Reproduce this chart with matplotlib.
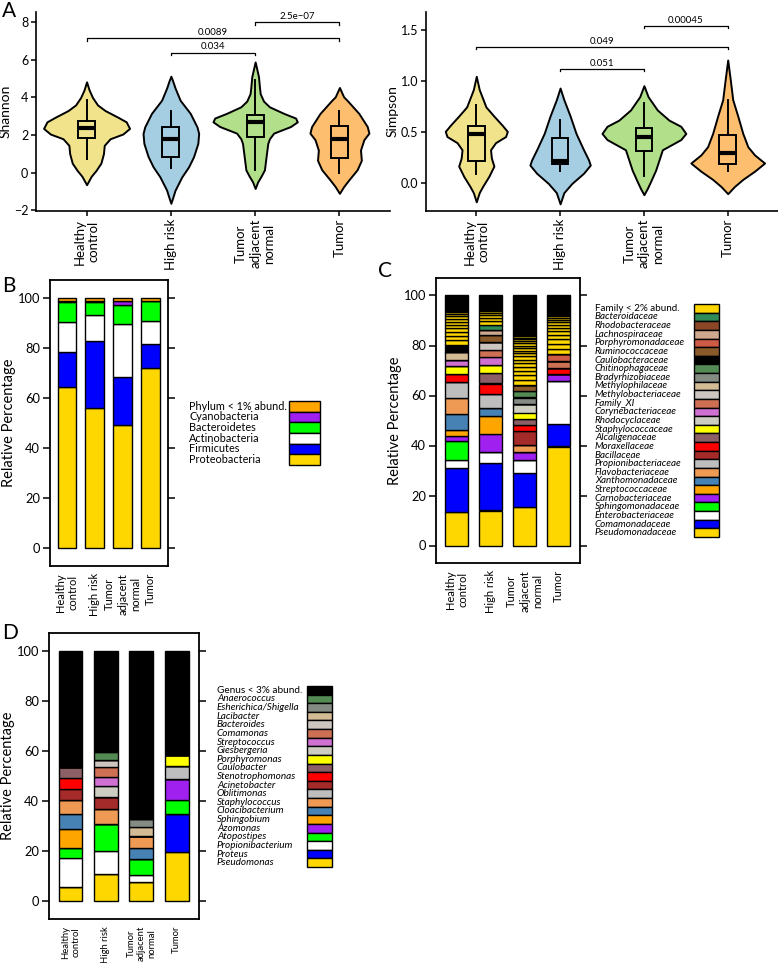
import numpy as np
import matplotlib.pyplot as plt
from matplotlib.patches import Rectangle

plt.rcParams['font.family'] = ['Lato', 'DejaVu Sans']

W, H = 778, 963

# -----------------------------------
# DATA
# -----------------------------------
groups = ["Healthy\ncontrol", "High risk", "Tumor\nadjacent\nnormal", "Tumor"]
violin_colors = ["#F1E38C", "#A6CEE3", "#B2DF8A", "#FDBF6F"]

# violin outlines: value levels and half widths (category units)
shannon_y = [
    [4.83, 4.4, 4.0, 3.6, 3.3, 2.95, 2.7, 2.35, 2.05, 1.8, 1.45, 1.0, 0.5, 0.1, -0.2, -0.65],
    [5.13, 4.9, 4.5, 3.85, 3.15, 2.43, 2.08, 1.55, 0.85, 0.3, -0.23, -0.94, -1.3, -1.64],
    [5.89, 5.5, 5.1, 4.6, 4.2, 3.8, 3.5, 3.15, 2.9, 2.7, 2.45, 2.1, 1.8, 1.55, 0.85, 0.14, -0.2, -0.5, -0.85],
    [4.53, 4.03, 3.85, 3.15, 2.45, 2.1, 1.75, 1.2, 0.65, 0.15, -0.4, -0.75, -1.11],
]
shannon_w = [
    [0, 0.03, 0.07, 0.13, 0.22, 0.37, 0.47, 0.51, 0.43, 0.28, 0.21, 0.2, 0.17, 0.11, 0.055, 0],
    [0, 0.02, 0.05, 0.11, 0.23, 0.31, 0.33, 0.32, 0.27, 0.21, 0.13, 0.05, 0.025, 0],
    [0, 0.02, 0.04, 0.05, 0.06, 0.1, 0.17, 0.34, 0.48, 0.5, 0.42, 0.22, 0.17, 0.15, 0.13, 0.11, 0.07, 0.03, 0],
    [0, 0.05, 0.09, 0.23, 0.33, 0.35, 0.29, 0.25, 0.26, 0.21, 0.11, 0.05, 0],
]
simpson_y = [
    [1.05, 0.92, 0.75, 0.66, 0.57, 0.51, 0.46, 0.40, 0.33, 0.25, 0.17, 0.07, -0.03, -0.09, -0.18],
    [0.935, 0.82, 0.66, 0.49, 0.33, 0.23, 0.18, 0.10, 0.0, -0.09, -0.2],
    [0.958, 0.85, 0.72, 0.62, 0.56, 0.49, 0.43, 0.33, 0.23, 0.13, 0.02, -0.05, -0.11],
    [1.21, 1.02, 0.82, 0.66, 0.49, 0.36, 0.28, 0.20, 0.12, 0.04, -0.03, -0.10],
]
simpson_w = [
    [0, 0.035, 0.115, 0.21, 0.31, 0.37, 0.35, 0.23, 0.17, 0.18, 0.21, 0.15, 0.075, 0.035, 0],
    [0, 0.045, 0.12, 0.19, 0.28, 0.34, 0.36, 0.28, 0.14, 0.045, 0],
    [0, 0.05, 0.16, 0.30, 0.44, 0.50, 0.44, 0.22, 0.18, 0.14, 0.08, 0.04, 0],
    [0, 0.03, 0.06, 0.12, 0.18, 0.24, 0.32, 0.44, 0.32, 0.18, 0.08, 0],
]
# box stats: whislo, q1, med, q3, whishi
shannon_box = [[0.72, 1.85, 2.36, 2.75, 3.85], [0.22, 0.84, 1.81, 2.43, 3.27],
               [0.13, 1.9, 2.69, 3.09, 4.91], [0.0, 0.75, 1.76, 2.47, 3.3]]
simpson_box = [[0.09, 0.22, 0.48, 0.56, 0.77], [0.12, 0.19, 0.22, 0.445, 0.62],
               [0.07, 0.32, 0.46, 0.54, 0.79], [0.12, 0.19, 0.30, 0.47, 0.82]]
# comparisons: (group a, group b, bracket height, label)
shannon_tests = [(3, 4, 8.0, "2.5e\u221207"), (1, 4, 7.17, "0.0089"), (2, 3, 6.39, "0.034")]
simpson_tests = [(3, 4, 1.546, "0.00045"), (1, 4, 1.34, "0.049"), (2, 3, 1.125, "0.051")]

# panel B: phyla, bottom to top
phyla = ["Proteobacteria", "Firmicutes", "Actinobacteria", "Bacteroidetes", "Cyanobacteria",
         "Phylum < 1% abund."]
phyla_colors = ["#FFD700", "#0000FF", "#FFFFFF", "#00FF00", "#A020F0", "#FFA500"]
phyla_pct = [
    [64.5, 56.0, 49.1, 71.8],
    [13.7, 26.7, 19.3, 9.8],
    [12.2, 10.4, 21.1, 9.0],
    [7.7, 5.2, 7.6, 7.9],
    [0.7, 0.3, 1.4, 0.3],
    [1.2, 1.4, 1.5, 1.2],
]

# panel C: families, bottom to top
families = ["Pseudomonadaceae", "Comamonadaceae", "Enterobacteriaceae", "Sphingomonadaceae",
            "Carnobacteriaceae", "Streptococcaceae", "Xanthomonadaceae", "Flavobacteriaceae",
            "Propionibacteriaceae", "Bacillaceae", "Moraxellaceae", "Alcaligenaceae",
            "Staphylococcaceae", "Rhodocyclaceae", "Corynebacteriaceae", "Family_XI",
            "Methylobacteriaceae", "Methylophilaceae", "Bradyrhizobiaceae", "Chitinophagaceae",
            "Caulobacteraceae", "Ruminococcaceae", "Porphyromonadaceae", "Lachnospiraceae",
            "Rhodobacteraceae", "Bacteroidaceae"]
family_colors = ["#FFD700", "#0000FF", "#FFFFFF", "#00FF00", "#A020F0", "#FFA500", "#4682B4",
                 "#EE9A55", "#BEBEBE", "#A52A2A", "#FF0000", "#8B5F65", "#FFFF00", "#CDCDC1",
                 "#D070D0", "#CD7054", "#CDC5BF", "#D3BC95", "#838B83", "#548B54", "#000000",
                 "#8B5A2B", "#CD5B45", "#CFA98F", "#8B4726", "#2E8B57"]
family_pct = [
    [13.3, 14.0, 15.4, 39.6],
    [17.6, 18.9, 13.7, 9.1],
    [3.4, 4.3, 4.9, 16.9],
    [7.3, 0, 0, 0],
    [2.0, 7.3, 3.2, 2.9],
    [2.4, 7.5, 0, 0],
    [6.7, 3.2, 0, 0],
    [6.2, 0, 2.8, 0],
    [6.3, 5.4, 0, 0],
    [0, 0, 5.9, 0],
    [3.3, 4.2, 2.4, 2.4],
    [0, 4.0, 2.4, 0],
    [3.1, 3.5, 2.5, 0],
    [0, 0, 3.3, 0],
    [2.7, 3.2, 0, 0],
    [0, 2.8, 0, 3.0],
    [0, 2.9, 0, 0],
    [2.9, 0, 0, 0],
    [0, 0, 2.7, 0],
    [0, 0, 2.8, 0],
    [2.8, 0, 0, 0],
    [0, 2.8, 2.3, 0],
    [0, 0, 0, 2.6],
    [0, 2.3, 0, 0],
    [0, 0, 0, 0],
    [0, 2.0, 0, 0],
]
# families below 2 %: the visible stripes per group (rest is a dense dark tail)
minor_families = [
    [2.0, 1.8, 1.6, 1.5, 1.4, 1.2, 1.1, 1.0, 0.9, 0.8, 0.6, 0.4],
    [1.5, 1.3, 1.1, 0.9, 0.8],
    [2.0, 1.8, 1.7, 1.6, 1.5, 1.4, 1.3, 1.2, 1.1, 1.1, 1.0, 0.9, 0.8, 0.8, 0.7, 0.6, 0.5, 0.4, 0.3],
    [2.2, 2.0, 1.8, 1.6, 1.5, 1.4, 1.2, 1.1, 0.9, 0.8, 0.6],
]

# panel D: genera, bottom to top
genera = ["Pseudomonas", "Proteus", "Propionibacterium", "Atopostipes", "Azomonas", "Sphingobium",
          "Cloacibacterium", "Staphylococcus", "Oblitimonas", "Acinetobacter", "Stenotrophomonas",
          "Caulobacter", "Porphyromonas", "Giesbergeria", "Streptococcus", "Comamonas",
          "Bacteroides", "Lacibacter", "Esherichica/Shigella", "Anaerococcus"]
genus_colors = ["#FFD700", "#0000FF", "#FFFFFF", "#00FF00", "#A020F0", "#FFA500", "#4682B4",
                "#EE9A55", "#BEBEBE", "#A52A2A", "#FF0000", "#8B5F65", "#FFFF00", "#CDCDC1",
                "#D070D0", "#CD7054", "#CDC5BF", "#D3BC95", "#838B83", "#548B54"]
genus_pct = [
    [5.7, 11.0, 7.6, 19.9],
    [0, 0, 0, 14.9],
    [11.6, 9.2, 3.0, 0],
    [4.0, 10.7, 6.3, 5.8],
    [0, 0, 0, 8.2],
    [7.6, 0, 0, 0],
    [5.9, 0, 4.6, 0],
    [5.8, 5.9, 4.7, 0],
    [0, 0, 0, 5.1],
    [4.2, 4.8, 0, 0],
    [4.3, 0, 0, 0],
    [4.5, 0, 0, 0],
    [0, 0, 0, 4.3],
    [0, 4.3, 0, 0],
    [0, 3.7, 0, 0],
    [0, 3.9, 0, 0],
    [0, 3.0, 0, 0],
    [0, 0, 3.5, 0],
    [0, 0, 3.1, 0],
    [0, 2.9, 0, 0],
]

# -----------------------------------
# LAYOUT
# -----------------------------------
fig = plt.figure(figsize=(W / 100, H / 100), dpi=100)


def px_axes(x0, y0, x1, y1):
    return fig.add_axes([x0 / W, 1 - y1 / H, (x1 - x0) / W, (y1 - y0) / H])


pos = np.arange(1, 5)


def violin_panel(ax, ys, ws, boxes, tests, ylim, yticks, ytl, ylabel, tick_h):
    for i in range(4):
        y = np.array(ys[i])
        w = np.array(ws[i])
        ax.fill_betweenx(y, pos[i] - w, pos[i] + w, facecolor=violin_colors[i],
                         edgecolor='black', lw=1.4, zorder=1)
    stats = [dict(whislo=b[0], q1=b[1], med=b[2], q3=b[3], whishi=b[4]) for b in boxes]
    ax.bxp(stats, positions=pos, widths=0.2, showfliers=False, showcaps=False,
           patch_artist=True, manage_ticks=False,
           boxprops=dict(facecolor='none', edgecolor='black', lw=1.4),
           whiskerprops=dict(color='black', lw=1.4),
           medianprops=dict(color='black', lw=3.0, solid_capstyle='butt'))
    for a, b, h, lab in tests:
        ax.plot([a, a, b, b], [h - tick_h, h, h, h - tick_h], color='black', lw=0.9)
        ax.text((a + b) / 2, h + tick_h * 0.4, lab, ha='center', va='bottom', fontsize=7)
    ax.set_xlim(0.4, 4.6)
    ax.set_ylim(*ylim)
    ax.set_yticks(yticks, ytl, fontsize=9)
    ax.set_xticks(pos, groups, rotation=90, ha='center', va='top', multialignment='center',
                  fontsize=9.5)
    ax.set_ylabel(ylabel, fontsize=10, labelpad=2)
    for s in ['top', 'right']:
        ax.spines[s].set_visible(False)
    for s in ['left', 'bottom']:
        ax.spines[s].set_linewidth(1.2)
    ax.tick_params(length=3.5, width=1.1, pad=2)


ax_sh = px_axes(36, 12, 390, 211)
violin_panel(ax_sh, shannon_y, shannon_w, shannon_box, shannon_tests, (-2.05, 8.55),
             [-2, 0, 2, 4, 6, 8], ["\u22122", "0", "2", "4", "6", "8"], "Shannon", 0.15)
ax_si = px_axes(426, 12, 778, 211)
violin_panel(ax_si, simpson_y, simpson_w, simpson_box, simpson_tests, (-0.27, 1.68),
             [0, 0.5, 1.0, 1.5], ["0.0", "0.5", "1.0", "1.5"], "Simpson", 0.025)


def bar_panel(ax, rows, colors):
    bottom = np.zeros(4)
    for vals, c in zip(rows, colors):
        vals = np.array(vals, dtype=float)
        ax.bar(pos, vals, width=0.67, bottom=bottom, color=c, edgecolor='black', lw=1.0)
        bottom += vals
    return bottom


def bar_axes(ax, label_fs):
    ax.set_xlim(0.39, 4.63)
    ax.set_ylim(-7, 107)
    ax.set_yticks([0, 20, 40, 60, 80, 100])
    ax.tick_params(axis='y', left=True, right=True, labelright=False, direction='out',
                   length=5, width=1.1, labelsize=9.3, pad=2)
    ax.set_xticks(pos, groups, rotation=90, ha='center', va='top', multialignment='center')
    ax.tick_params(axis='x', length=0, labelsize=label_fs, pad=5)
    ax.set_ylabel("Relative Percentage", fontsize=10.5, labelpad=1)
    for s in ax.spines.values():
        s.set_linewidth(1.3)


def key(x0, y0, bx0, x1, y1, labels, colors, italic_from, fs):
    lax = px_axes(x0, y0, x1, y1)
    lax.set_xlim(x0, x1)
    lax.set_ylim(y1, y0)
    lax.axis('off')
    n = len(labels)
    h = (y1 - y0) / n
    for k, (lab, c) in enumerate(zip(labels, colors)):
        lax.add_patch(Rectangle((bx0, y0 + k * h), x1 - bx0, h, facecolor=c,
                                edgecolor='black', lw=1.0, clip_on=False))
        lax.text(x0, y0 + (k + 0.5) * h, lab, ha='left', va='center', fontsize=fs,
                 style='italic' if k >= italic_from else 'normal')


# panel B
ax_b = px_axes(50, 280, 168, 566)
bar_panel(ax_b, phyla_pct, phyla_colors)
bar_axes(ax_b, 8)
key(189, 401, 289, 320, 465, phyla[::-1], phyla_colors[::-1], 99, 7.8)

# panel C
ax_c = px_axes(436, 278, 580, 563)
cum = bar_panel(ax_c, family_pct, family_colors)
for i in range(4):
    for v in minor_families[i]:
        ax_c.bar(pos[i], v, width=0.67, bottom=cum[i], color="#FFD700", edgecolor='black', lw=1.0)
        cum[i] += v
ax_c.bar(pos, 100 - cum, width=0.67, bottom=cum, color='black', edgecolor='black', lw=1.0)
bar_axes(ax_c, 8)
key(595, 304, 694, 719, 537, ["Family < 2% abund."] + families[::-1],
    ["#FFD700"] + family_colors[::-1], 1, 7.1)

# panel D
ax_d = px_axes(49, 633, 199, 919)
cum = bar_panel(ax_d, genus_pct, genus_colors)
ax_d.bar(pos, 100 - cum, width=0.67, bottom=cum, color='black', edgecolor='black', lw=1.0)
bar_axes(ax_d, 6.8)
key(217, 686, 307, 332, 867, ["Genus < 3% abund."] + genera[::-1],
    ["#000000"] + genus_colors[::-1], 1, 7.2)

for letter, x, y in [("A", 2, 1), ("B", 2, 276), ("C", 378, 261), ("D", 2, 623)]:
    fig.text(x / W, 1 - y / H, letter, fontsize=15, ha='left', va='top')

fig.savefig("out.png", dpi=100)
